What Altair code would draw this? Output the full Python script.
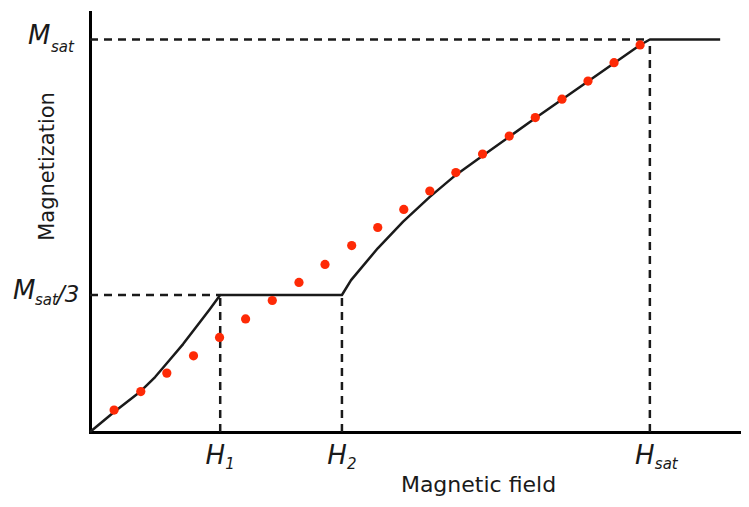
import altair as alt
import pandas as pd

# ---- values (arbitrary units) ----
H_VALUES = [2.0, 3.87, 8.6]          # H1, H2, Hsat
H_SUBS = ["1", "2", "sat"]
M_SAT = 1.0
M_PLATEAU = 0.349                     # drawn level of Msat/3

# solid magnetization curve
CURVE_H = [0.0, 0.37, 0.78, 1.0, 1.21, 1.43, 1.69, 1.84, 2.0,
           2.2, 3.87, 4.01, 4.42, 4.81, 5.22, 5.62, 5.94, 6.87, 7.68,
           8.45, 8.6, 9.68]
CURVE_M = [0.0, 0.051, 0.104, 0.140, 0.181, 0.224, 0.280, 0.313, 0.349,
           0.349, 0.349, 0.387, 0.468, 0.536, 0.599, 0.655, 0.693, 0.803,
           0.897, 0.986, 1.0, 1.0]

# red dotted points
DOT_H = [0.37, 0.78, 1.18, 1.59, 1.99, 2.39, 2.80, 3.21, 3.61, 4.02, 4.42,
         4.82, 5.22, 5.62, 6.03, 6.44, 6.84, 7.25, 7.65, 8.05, 8.45]
DOT_M = [0.056, 0.103, 0.150, 0.194, 0.241, 0.288, 0.335, 0.381, 0.427,
         0.475, 0.521, 0.567, 0.614, 0.661, 0.708, 0.754, 0.801, 0.848,
         0.894, 0.941, 0.986]

H1, H2, HSAT = H_VALUES

curve_df = pd.DataFrame({"h": CURVE_H, "m": CURVE_M, "i": range(len(CURVE_H))})
dots_df = pd.DataFrame({"h": DOT_H, "m": DOT_M})
seg_df = pd.DataFrame({
    "h": [0.0, 0.0, H1, H2, HSAT],
    "m": [M_SAT, M_PLATEAU, 0.0, 0.0, 0.0],
    "h2": [HSAT, H1, H1, H2, HSAT],
    "m2": [M_SAT, M_PLATEAU, M_PLATEAU, M_PLATEAU, M_SAT],
})
hlab_df = pd.DataFrame({"h": H_VALUES, "m": [0.0] * 3, "sub": H_SUBS})

FONT = "DejaVu Sans"
INK = "#1a1a1a"

xaxis = alt.Axis(title="Magnetic field", ticks=False, labels=False, grid=False,
                 domainColor="#000", domainWidth=3, domainCap="square",
                 titleFont=FONT, titleFontSize=22, titleFontWeight="normal",
                 titleColor=INK, titleX=388, titleY=59, titleAlign="center",
                 titleBaseline="alphabetic")
yaxis = alt.Axis(title="Magnetization", ticks=False, labels=False, grid=False,
                 domainColor="#000", domainWidth=3, domainCap="square",
                 titleFont=FONT, titleFontSize=21, titleFontWeight="normal",
                 titleColor=INK, titleX=-43, titleY=154, titleAngle=270,
                 titleAlign="center", titleBaseline="middle")

xs = alt.Scale(domain=[0, 10], nice=False, zero=False)
ys = alt.Scale(domain=[0, 1.07], nice=False, zero=False)


def X(field="h"):
    return alt.X(f"{field}:Q", scale=xs, axis=xaxis)


def Y(field="m"):
    return alt.Y(f"{field}:Q", scale=ys, axis=yaxis)


dashes = alt.Chart(seg_df).mark_rule(
    strokeDash=[8, 6], strokeWidth=2.5, color=INK
).encode(x=X(), y=Y(), x2="h2:Q", y2="m2:Q")

curve = alt.Chart(curve_df).mark_line(
    color=INK, strokeWidth=2.5, strokeJoin="round"
).encode(x=X(), y=Y(), order="i:Q")

dots = alt.Chart(dots_df).mark_circle(
    size=85, color="#fe2a06", opacity=1
).encode(x=X(), y=Y())

h_main = alt.Chart(hlab_df).mark_text(
    text="H", font=FONT, fontSize=26, fontStyle="italic", color=INK,
    align="center", baseline="middle", dx=-5, dy=24
).encode(x=X(), y=Y())
h_sub = alt.Chart(hlab_df).mark_text(
    font=FONT, fontSize=15, fontStyle="italic", color=INK,
    align="left", baseline="middle", dx=5, dy=32
).encode(x=X(), y=Y(), text="sub:N")

msat_df = pd.DataFrame({"h": [0.0], "m": [M_SAT]})
mpl_df = pd.DataFrame({"h": [0.0], "m": [M_PLATEAU]})


def txt(df, s, size, dx, dy, italic=True):
    return alt.Chart(df).mark_text(
        text=s, font=FONT, fontSize=size, color=INK,
        fontStyle="italic" if italic else "normal",
        align="left", baseline="middle", dx=dx, dy=dy
    ).encode(x=X(), y=Y())


m1 = txt(msat_df, "M", 26, -62, -3)
m1s = txt(msat_df, "sat", 15, -39, 8)
m2 = txt(mpl_df, "M", 26, -77, -4)
m2s = txt(mpl_df, "sat", 15, -55, 5)
m2t = txt(mpl_df, "/3", 23, -33, 0)

chart = alt.layer(
    dashes, curve, dots, h_main, h_sub, m1, m1s, m2, m2s, m2t
).properties(
    width=651, height=420, autosize="none",
    padding={"left": 82, "top": 4, "right": 0, "bottom": 66},
    background="white",
).configure_view(stroke=None)

chart.save("out.html", embed_options={"renderer": "svg", "actions": False})
